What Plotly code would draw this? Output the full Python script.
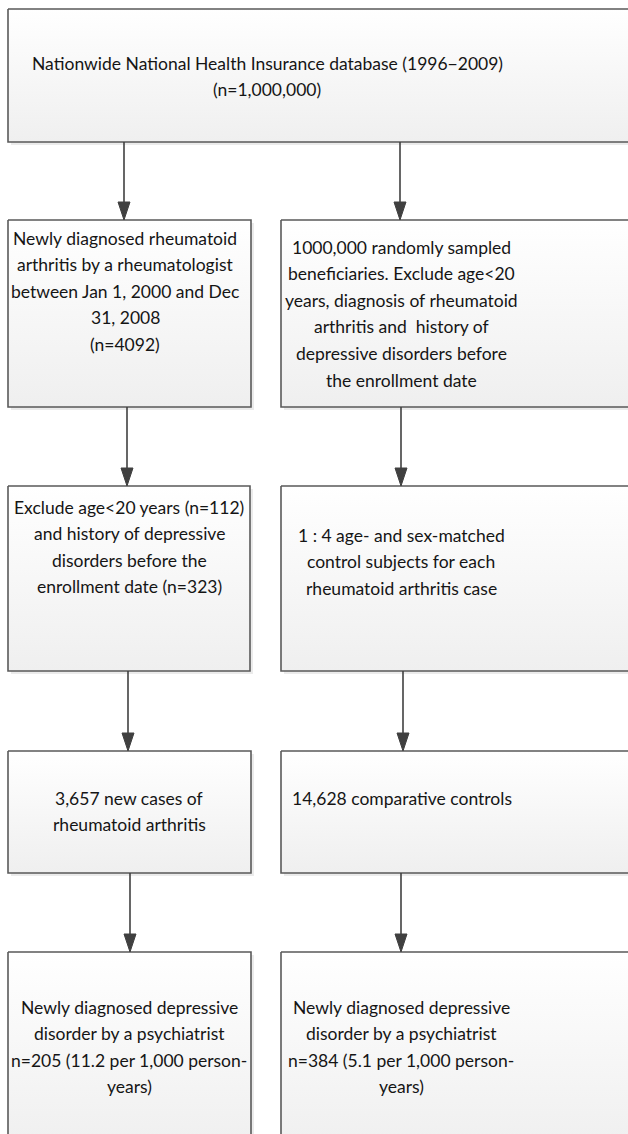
import plotly.graph_objects as go

# ---- content ----
box_texts = [
    ["Nationwide National Health Insurance database (1996\u22122009)", "(n=1,000,000)"],
    ["Newly diagnosed rheumatoid", "arthritis by a rheumatologist", "between Jan 1, 2000 and Dec", "31, 2008", "(n=4092)"],
    ["1000,000 randomly sampled", "beneficiaries. Exclude age<20", "years, diagnosis of rheumatoid", "arthritis and  history of", "depressive disorders before", "the enrollment date"],
    ["Exclude age<20 years (n=112)", "and history of depressive", "disorders before the", "enrollment date (n=323)"],
    ["1 : 4 age- and sex-matched", "control subjects for each", "rheumatoid arthritis case"],
    ["3,657 new cases of", "rheumatoid arthritis"],
    ["14,628 comparative controls"],
    ["Newly diagnosed depressive", "disorder by a psychiatrist", "n=205 (11.2 per 1,000 person-", "years)"],
    ["Newly diagnosed depressive", "disorder by a psychiatrist", "n=384 (5.1 per 1,000 person-", "years)"],
]

# ---- layout geometry (pixels, y downwards) ----
box_x0 = [8, 8, 281, 8, 281, 8, 281, 8, 281]
box_x1 = [640, 251, 640, 250, 640, 251, 640, 251, 640]
box_y0 = [9, 220, 220, 486, 486, 751, 751, 952, 952]
box_y1 = [142, 407, 407, 671, 671, 873, 873, 1150, 1150]
text_cx = [267, 125, 401, 129, 401, 129, 402, 129, 401]
text_first_y = [63, 238, 247, 507, 535, 798, 798, 1007, 1007]
line_gap = 26.6

# arrows: (x, from box index, to box index)
arrow_x = [124, 400, 127, 401, 128, 403, 130, 401]
arrow_from = [0, 0, 1, 2, 3, 4, 5, 6]
arrow_to = [1, 2, 3, 4, 5, 6, 7, 8]

W, H = 628, 1134
fig = go.Figure()

border = "#5a5a5a"
for i in range(len(box_texts)):
    x0, x1, y0, y1 = box_x0[i], box_x1[i], box_y0[i], box_y1[i]
    # shadow
    fig.add_shape(type="rect", x0=x0 + 3, x1=x1 + 3, y0=y0 + 3, y1=y1 + 3,
                  line=dict(width=0), fillcolor="rgba(0,0,0,0.08)", layer="below")
    fig.add_trace(go.Scatter(
        x=[x0, x1, x1, x0, x0], y=[y0, y0, y1, y1, y0],
        mode="lines", fill="toself",
        fillgradient=dict(type="vertical",
                          colorscale=[[0, "#ffffff"], [1, "#efefef"]],
                          start=y0, stop=y1),
        line=dict(color=border, width=1.6),
        hoverinfo="skip", showlegend=False))
    for j, line in enumerate(box_texts[i]):
        fig.add_annotation(x=text_cx[i], y=text_first_y[i] + j * line_gap,
                           text=line, showarrow=False, xanchor="center", yanchor="middle",
                           font=dict(family="Lato, Open Sans, sans-serif", size=17.5, color="#151515"))

arrow_col = "#404040"
head_len, head_half = 18, 6
for k in range(len(arrow_x)):
    x = arrow_x[k]
    ya = box_y1[arrow_from[k]]
    yb = box_y0[arrow_to[k]]
    fig.add_shape(type="line", x0=x, x1=x, y0=ya, y1=yb - head_len + 2,
                  line=dict(color=arrow_col, width=1.6))
    fig.add_shape(type="path",
                  path=f"M {x - head_half} {yb - head_len} L {x + head_half} {yb - head_len} L {x} {yb} Z",
                  fillcolor=arrow_col, line=dict(color=arrow_col, width=1))

fig.update_xaxes(range=[0, W], visible=False, fixedrange=True)
fig.update_yaxes(range=[H, 0], visible=False, fixedrange=True)
fig.update_layout(width=W, height=H, margin=dict(l=0, r=0, t=0, b=0),
                  plot_bgcolor="white", paper_bgcolor="white", showlegend=False)
fig.write_html("out.html", config={"displayModeBar": False},
               post_script="document.body.style.margin='0';document.body.style.overflow='hidden';")
